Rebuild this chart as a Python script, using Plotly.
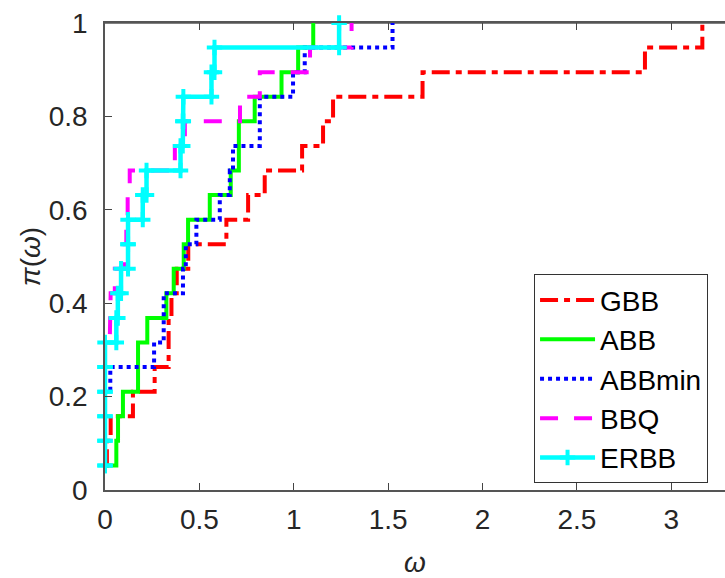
import plotly.graph_objects as go

# fraction of problems (19 problems)
levels = [0.0526, 0.1053, 0.1579, 0.2105, 0.2632, 0.3158, 0.3684, 0.4211, 0.4737,
          0.5263, 0.5789, 0.6316, 0.6842, 0.7368, 0.7895, 0.8421, 0.8947, 0.9474, 1.0]

# sorted omega values per method
gbb = [0.0, 0.01, 0.03, 0.148, 0.263, 0.337, 0.337, 0.352, 0.38, 0.441, 0.643, 0.758,
       0.846, 1.044, 1.155, 1.208, 1.682, 2.860, 3.164]
abb = [0.0, 0.06, 0.069, 0.095, 0.175, 0.175, 0.224, 0.325, 0.364, 0.417, 0.44, 0.555,
       0.666, 0.709, 0.709, 0.793, 0.935, 1.023, 1.103]
abbmin = [0.0, 0.0, 0.0, 0.0, 0.028, 0.26, 0.311, 0.311, 0.413, 0.428, 0.484, 0.608,
          0.661, 0.678, 0.82, 0.82, 0.996, 1.058, 1.523]
bbq = [0.0, 0.0, 0.0, 0.0, 0.0, 0.0, 0.025, 0.03, 0.052, 0.104, 0.113, 0.12, 0.131,
       0.37, 0.423, 0.715, 0.82, 1.086, 1.306]
erbb = [0.0, 0.0, 0.0, 0.0, 0.0, 0.0, 0.06, 0.068, 0.085, 0.122, 0.122, 0.20, 0.22,
        0.40, 0.412, 0.415, 0.564, 0.58, 1.24]

names = ["GBB", "ABB", "ABBmin", "BBQ", "ERBB"]
colors = ["#FF0000", "#00FF00", "#0000FF", "#FF00FF", "#00FFFF"]
dashes = ["18px,6px,6px,6px", "solid", "4px,4px", "18px,16px", "solid"]
series = [gbb, abb, abbmin, bbq, erbb]

x_range = [0, 3.284]
x_ticks = [0, 0.5, 1, 1.5, 2, 2.5, 3]
x_ticktext = ["0", "0.5", "1", "1.5", "2", "2.5", "3"]
y_ticks = [0, 0.2, 0.4, 0.6, 0.8, 1.0]
y_ticktext = ["0", "0.2", "0.4", "0.6", "0.8", "1"]


def stairs(xs, ys):
    sx, sy = [], []
    for i in range(len(xs)):
        if i > 0:
            sx.append(xs[i])
            sy.append(ys[i - 1])
        sx.append(xs[i])
        sy.append(ys[i])
    return sx, sy


fig = go.Figure()
for name, col, dash, vals in zip(names, colors, dashes, series):
    sx, sy = stairs(vals, levels)
    if name == "ERBB":
        fig.add_trace(go.Scatter(
            x=sx, y=sy, name=name, mode="lines+markers",
            line=dict(color=col, width=4.5, dash=dash),
            marker=dict(symbol="cross-thin", size=11, color=col,
                        line=dict(color=col, width=4)),
            cliponaxis=False))
    else:
        fig.add_trace(go.Scatter(
            x=sx, y=sy, name=name, mode="lines",
            line=dict(color=col, width=4, dash=dash)))

# empty helper trace so the top (box) axis gets drawn
fig.add_trace(go.Scatter(x=[None], y=[None], xaxis="x2", yaxis="y",
                         showlegend=False, hoverinfo="skip"))

# top border of the axes box
fig.add_shape(type="line", xref="paper", yref="paper", x0=0, x1=1, y0=1, y1=1,
              line=dict(color="#555555", width=1.5), layer="below")

font_family = "Liberation Sans, Arial, sans-serif"
fig.update_layout(
    width=725, height=578,
    margin=dict(l=105, r=0, t=23, b=88),
    paper_bgcolor="white", plot_bgcolor="white",
    font=dict(family=font_family, size=28, color="#262626"),
    showlegend=True,
    legend=dict(x=0.692, y=0.462, xanchor="left", yanchor="top",
                bgcolor="white", bordercolor="#333333", borderwidth=1,
                font=dict(size=28, color="black"),
                tracegroupgap=0, itemwidth=55),
    xaxis=dict(range=x_range, tickvals=x_ticks, ticktext=x_ticktext,
               ticks="inside", ticklen=7, tickcolor="#444444",
               showline=True, linecolor="#555555", linewidth=1.5, mirror=False,
               showgrid=False, zeroline=False, automargin=False,
               tickfont=dict(size=28, color="#262626"),
               ticklabelstandoff=4, ticklabeloverflow="allow",
               title=dict(text="<i>ω</i>", font=dict(size=28, color="#262626"),
                          standoff=24)),
    xaxis2=dict(range=x_range, tickvals=x_ticks, overlaying="x", side="top",
                anchor="y", ticks="inside", ticklen=7, tickcolor="#444444",
                showline=True, linecolor="#555555", linewidth=1.5,
                showticklabels=False, showgrid=False, zeroline=False,
                automargin=False),
    yaxis=dict(range=[0, 1], tickvals=y_ticks, ticktext=y_ticktext,
               ticks="inside", ticklen=7, tickcolor="#444444",
               showline=True, linecolor="#555555", linewidth=1.5, mirror=False,
               showgrid=False, zeroline=False, automargin=False,
               tickfont=dict(size=28, color="#262626"),
               ticklabelstandoff=10, ticklabeloverflow="allow",
               title=dict(text="<i>π</i>(<i>ω</i>)", font=dict(size=28, color="#262626"),
                          standoff=0)),
)

fig.write_html("out.html",
               config={"displayModeBar": False},
               post_script="document.body.style.margin='0';"
                           "document.body.style.overflow='hidden';")
